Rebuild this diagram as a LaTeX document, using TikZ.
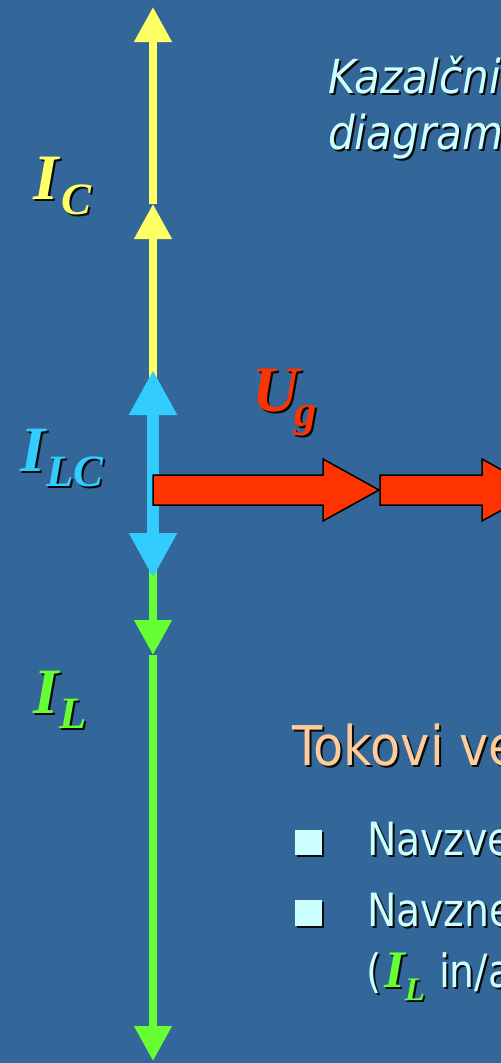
\documentclass[tikz,border=0pt]{standalone}
\usepackage{fontspec}
\usetikzlibrary{arrows.meta}
\newfontfamily\tah[FakeStretch=0.86]{DejaVu Sans}
\newfontfamily\tahw[FakeStretch=0.9]{DejaVu Sans}
\newfontfamily\tms{Liberation Serif}
\definecolor{bg}{HTML}{336699}
\definecolor{yel}{HTML}{FFFF66}
\definecolor{cya}{HTML}{33CCFF}
\definecolor{grn}{HTML}{66FF33}
\definecolor{redc}{HTML}{FF3300}
\definecolor{txtc}{HTML}{CCFFFF}
\definecolor{peach}{HTML}{FFCC99}
\definecolor{shadowc}{HTML}{0A0A0A}
\newcommand\symI[3]{{\tms\bfseries\itshape\fontsize{65}{65}\selectfont #1\kern#3\raisebox{-15bp}{\fontsize{45}{45}\selectfont #2}}}
\newcommand\shadowed[4]{%
  \node[lbl, text=shadowc, shift={(2,2)}] at (#2) {#4};
  \node[lbl, text=#3] (#1) at (#2) {#4};}
\tikzset{
  lbl/.style={anchor=base west, inner sep=0pt, outer sep=0pt},
  yvec/.style={draw=yel, line width=7.5bp, -{Triangle[width=36bp,length=35bp]}},
  gvec/.style={draw=grn, line width=7.5bp, -{Triangle[width=36bp,length=35bp]}},
  cvec/.style={draw=cya, line width=12bp, {Triangle[width=45bp,length=45bp]}-{Triangle[width=45bp,length=45bp]}},
  ublock/.style={fill=redc, draw=black, line width=1.5bp, line join=miter},
  bul/.style={fill=txtc, draw=none},
}
\begin{document}
\begin{tikzpicture}[x=1bp, y=-1bp]
\useasboundingbox (0,0) rectangle (501,1063);
\fill[bg] (0,0) rectangle (501,1063);
\clip (0,0) rectangle (501,1063);
% coordinates
\coordinate (O) at (153,475);
\coordinate (Cm) at (153,204);
\coordinate (Ct) at (153,7);
\coordinate (Lm) at (153,655);
\coordinate (Lb) at (153,1061);
\coordinate (LCt) at (153,370);
\coordinate (LCb) at (153,578);
% current vectors
\draw[yvec] (O) -- (Cm);
\draw[yvec] (Cm) -- (Ct);
\draw[gvec] (O) -- (Lm);
\draw[gvec] (Lm) -- (Lb);
\draw[cvec] (LCb) -- (LCt);
% voltage block arrows
\draw[ublock] (153,475) -- (323,475) -- (323,459) -- (379,490) -- (323,521) -- (323,505) -- (153,505) -- cycle;
\draw[ublock] (380,475) -- (482,475) -- (482,459) -- (538,490) -- (482,521) -- (482,505) -- (380,505) -- cycle;
% labels
\shadowed{IC}{33,199}{yel}{\symI{I}{C}{3bp}}
\shadowed{ILC}{20,471}{cya}{\symI{I}{LC}{1bp}}
\shadowed{Ug}{252,411}{redc}{\symI{U}{g}{-4bp}}
\shadowed{IL}{33,713}{grn}{\symI{I}{L}{1bp}}
% texts
\shadowed{t1}{328,93}{txtc}{\tahw\itshape\fontsize{47}{56}\selectfont Kazalčni}
\shadowed{t2}{328,149}{txtc}{\tahw\itshape\fontsize{47}{56}\selectfont diagram}
\shadowed{t3}{292,765}{peach}{\tahw\fontsize{55}{64}\selectfont Tokovi ve}
\fill[shadowc] (297,832) rectangle (324,857);
\fill[bul] (295,830) rectangle (322,855);
\fill[shadowc] (297,902) rectangle (324,928);
\fill[bul] (295,900) rectangle (322,926);
\shadowed{b1}{367,855}{txtc}{\tah\fontsize{46}{56}\selectfont Navzve}
\shadowed{b2}{367,926}{txtc}{\tah\fontsize{46}{56}\selectfont Navzne}
\node[lbl, text=shadowc, shift={(2,2)}] at (366,987) {\tah\fontsize{46}{56}\selectfont (\kern3bp{\tms\bfseries\itshape\fontsize{53}{53}\selectfont I\raisebox{-13bp}{\fontsize{33}{33}\selectfont L}}\kern14bp in/a};
\node[lbl, text=txtc] (b3) at (366,987) {\tah\fontsize{46}{56}\selectfont (\kern3bp{\color{grn}\tms\bfseries\itshape\fontsize{53}{53}\selectfont I\raisebox{-13bp}{\fontsize{33}{33}\selectfont L}}\kern14bp in/a};
\end{tikzpicture}
\end{document}
